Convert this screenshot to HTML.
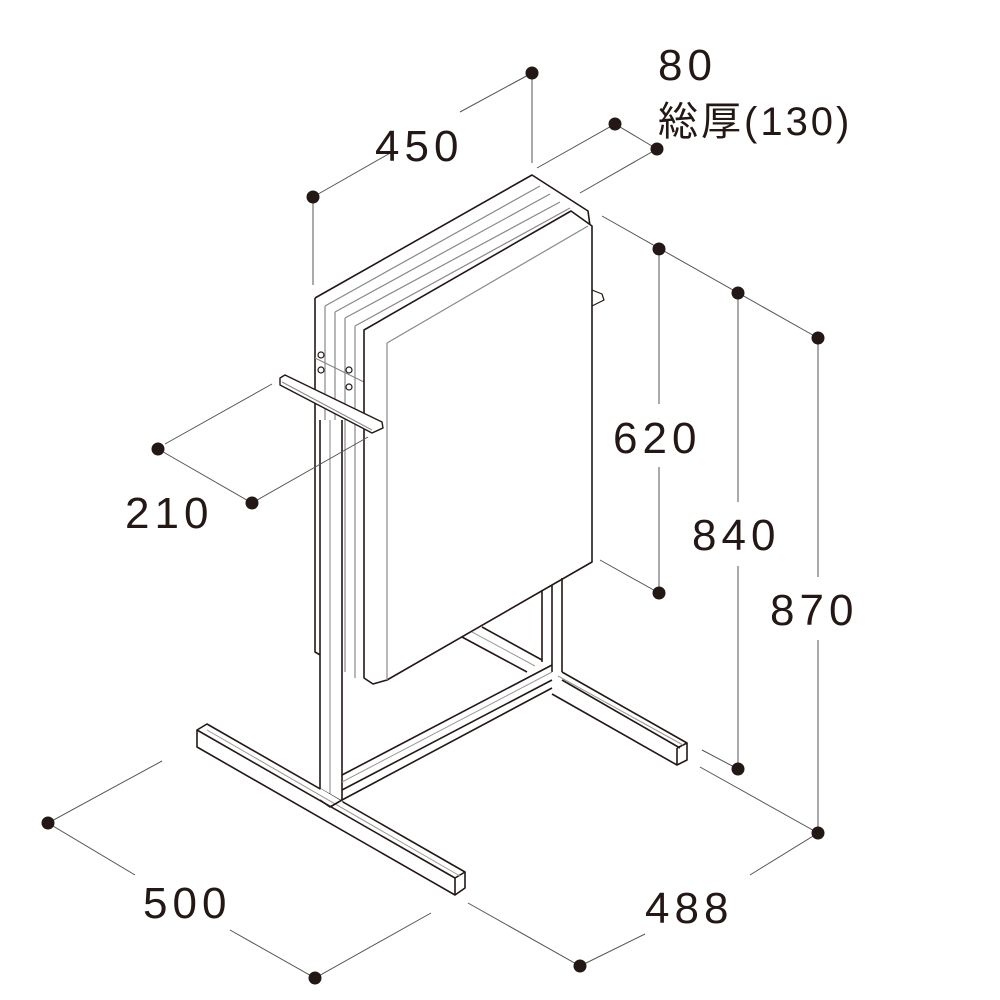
<!DOCTYPE html>
<html><head><meta charset="utf-8"><style>
html,body{margin:0;padding:0;background:#fff}
svg{display:block}
text{font-family:"Liberation Sans","Noto Sans CJK JP",sans-serif;fill:#231815}
</style></head><body>
<svg width="1000" height="1000" viewBox="0 0 1000 1000" xmlns="http://www.w3.org/2000/svg">
<g fill="none" stroke="#231815" stroke-width="1.6" stroke-linejoin="round">
<path d="M315,298 L532,175 L588,211 L590,226"/>
<path d="M315,298 L315,652 L322,656"/>
<g stroke="#888" stroke-width="1.2">
<path d="M325,306 L540,186"/><path d="M335,312 L550,194"/><path d="M345,318 L560,202"/><path d="M355,326 L570,208"/>
<path d="M325,306 L325,660"/><path d="M335,312 L335,666"/><path d="M345,318 L345,672"/><path d="M355,326 L355,678"/>
<path d="M315,358 L364,382"/>
</g>
<path d="M364,330 L571,211 L592,226 L592,562 L387,680 L373,684 L364,678 Z" fill="#fff"/>
<path d="M387,343 L588,226" stroke="#888" stroke-width="1.2"/>
<path d="M387,343 L387,680" stroke="#888" stroke-width="1.2"/>
<path d="M592,290 L602,294 L604,300 L592,306" stroke-width="1.2"/>
<g stroke-width="1.2"><circle cx="321" cy="355" r="3"/><circle cx="321" cy="370" r="3"/><circle cx="349" cy="370" r="3"/><circle cx="349" cy="387" r="3"/></g>
<path d="M320,420 L320,800 L330,807 L342,800 L342,420" fill="#fff"/>
<path d="M330,420 L330,807" stroke="#999" stroke-width="1.2"/>
<path d="M542,590 L542,662 M562,578 L562,672 M552,585 L552,672" />
<path d="M280,378 L285,375 L382,422 L383,428 L372,433 L280,385 Z" fill="#fff" stroke-width="1.4"/>
<path d="M282,382 L372,430" stroke="#888" stroke-width="1"/>
<path d="M342,775 L552,665 M342,790 L552,680 M342,800 L552,688" />
<path d="M342,782 L552,672" stroke="#999" stroke-width="1"/>
<path d="M462,637 L527,672 M482,627 L542,660"/>
<path d="M472,632 L535,666" stroke="#999" stroke-width="1"/>
<path d="M197,730 L207,724 L465,872 L465,888 L455,895 L197,747 Z" fill="#fff"/>
<path d="M197,730 L455,878 L465,872 M455,878 L455,895"/>
<path d="M207,730 L460,876" stroke="#999" stroke-width="1"/>
<path d="M320,790 L342,803" stroke="#fff" stroke-width="3"/>
<path d="M320,800 L330,807 L342,800"/>
<path d="M562,672 L687,743 L687,760 L677,765 L552,694 M677,748 L677,765 M677,748 L687,743 M562,680 L680,748" />
<path d="M558,676 L683,745" stroke="#999" stroke-width="1"/>
</g>
<g stroke="#555" stroke-width="1" fill="none">
<path d="M313,197 L313,285"/><path d="M313,197 L392,152"/><path d="M460,112 L532,73"/><path d="M532,73 L532,163"/>
<path d="M537,168 L615,124 L657,149"/><path d="M580,193 L657,149"/>
<path d="M602,216 L818,338"/>
<path d="M659,249 L659,404 M659,467 L659,593"/><path d="M600,560 L659,593"/>
<path d="M738,293 L738,502 M738,566 L738,769"/><path d="M702,750 L738,769"/>
<path d="M818,338 L818,577 M818,640 L818,833"/><path d="M700,767 L818,833 L750,875"/>
<path d="M645,934 L580,966 L468,903"/>
<path d="M162,761 L48,823 L135,875"/><path d="M230,930 L315,978 L431,913"/>
<path d="M165,444 L272,384 M158,449 L252,503 L368,437"/>
</g>
<g fill="#231815">
<circle cx="313" cy="197" r="6.5"/><circle cx="532" cy="73" r="6.5"/><circle cx="615" cy="124" r="6.5"/><circle cx="657" cy="149" r="6.5"/>
<circle cx="659" cy="249" r="6.5"/><circle cx="738" cy="293" r="6.5"/><circle cx="818" cy="338" r="6.5"/><circle cx="659" cy="593" r="6.5"/>
<circle cx="738" cy="769" r="6.5"/><circle cx="818" cy="833" r="6.5"/><circle cx="158" cy="449" r="6.5"/><circle cx="252" cy="503" r="6.5"/>
<circle cx="48" cy="823" r="6.5"/><circle cx="315" cy="978" r="6.5"/><circle cx="580" cy="966" r="6.5"/>
</g>
<g font-size="44" letter-spacing="5">
<text x="375" y="161">450</text>
<text x="658" y="80">80</text>
<text x="658" y="135" font-size="40" letter-spacing="3">総厚(130)</text>
<text x="613" y="453">620</text>
<text x="692" y="550">840</text>
<text x="770" y="625">870</text>
<text x="125" y="528">210</text>
<text x="143" y="918">500</text>
<text x="645" y="923">488</text>
</g>
</svg>
</body></html>
